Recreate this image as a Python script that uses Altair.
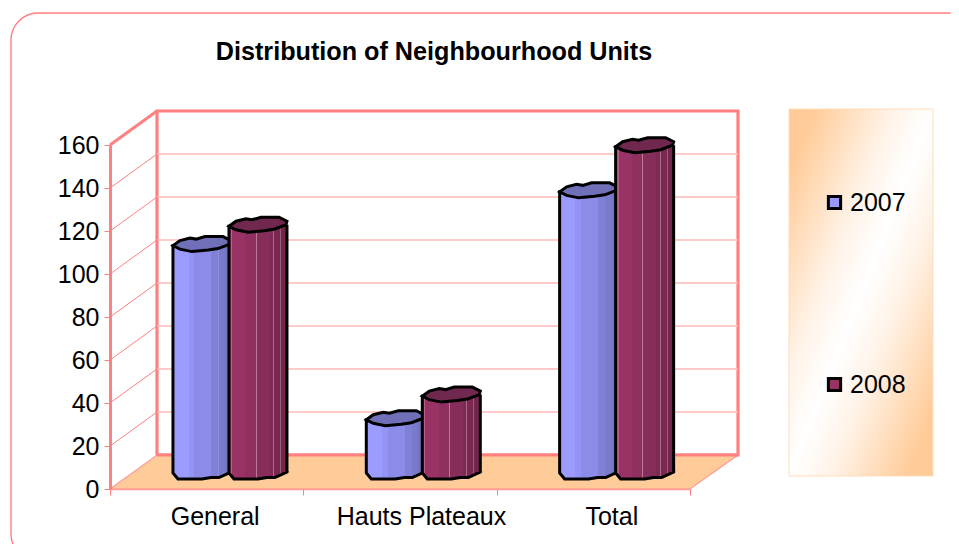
import altair as alt
import pandas as pd

categories = ["General", "Hauts Plateaux", "Total"]
series = ["2007", "2008"]
values_2007 = [106, 25, 131]
values_2008 = [115, 36, 152]
y_ticks = [0, 20, 40, 60, 80, 100, 120, 140, 160]

LINE = "#FF8080"
GRID = "#FFB8B8"
FLOOR = "#FFCC99"
FONT = "Liberation Sans"
DX, DY = 47, -34          # depth of the box
MX, MY = 24, -17          # bars stand half way in

rows = []
for s, vals in zip(series, [values_2007, values_2008]):
    for c, v in zip(categories, vals):
        rows.append({"category": c, "series": s, "value": v})
df = pd.DataFrame(rows)
ticks = pd.DataFrame({"v": y_ticks})
one = pd.DataFrame({"a": [0]})

def stepped(bands):
    stops = []
    for i, (start, colour) in enumerate(bands):
        end = bands[i + 1][0] if i + 1 < len(bands) else 1
        stops.append({"offset": start, "color": colour})
        stops.append({"offset": end, "color": colour})
    return {"gradient": "linear", "x1": 0, "x2": 1, "y1": 0, "y2": 0, "stops": stops}

body = {
    "2007": stepped([(0, "#9C9CFF"), (0.27, "#9494F4"), (0.37, "#8C8CE8"), (0.66, "#8080D6"),
                     (0.78, "#9090DC"), (0.79, "#7A7ACC"), (0.9, "#7474C0")]),
    "2008": stepped([(0, "#9B3366"), (0.03, "#B86088"), (0.05, "#993366"), (0.28, "#90305F"),
                     (0.46, "#B87A96"), (0.475, "#872D5A"), (0.7, "#7E2A54"),
                     (0.76, "#A66C88"), (0.775, "#7A2850"), (0.88, "#96607C"), (0.895, "#73264C")]),
}
cap = {"2007": "#7070B8", "2008": "#70284F"}
shift = {"2007": -28.7, "2008": 27.3}

TOP = "M-29,1.5 L-22,-3.5 L-12,-6 L-6,-5 L3,-7.5 L21,-7.5 L29,-3.5 L28,0 L16,4.5 L6,6 L-10,7.5 L-22,5 Z"
BOTTOM = "M-29,0 L-29,1 L-24,7 L0,7 L9,5.5 L17,5.5 L29,0 L29,-1"
FLOOR_PATH = f"M0,344 L{DX},{344+DY} L628,{344+DY} L580,344 Z"
WALL_TOP = f"M0,0 L{DX},{DY}"

xscale = alt.Scale(domain=categories, paddingInner=0, paddingOuter=0)
yscale = alt.Scale(domain=[0, 160], nice=False)
xaxis = alt.Axis(
    domainColor="#FF9999", domainWidth=1.5, tickColor=LINE, tickSize=6, tickWidth=1, tickBand="extent",
    labelAngle=0, labelFont=FONT, labelFontSize=25, labelColor="black", labelPadding=9,
    labelOffset={"condition": [{"test": "datum.label == 'General'", "value": 8},
                               {"test": "datum.label == 'Total'", "value": 18}], "value": 21},
    title=None, zindex=1)
yaxis = alt.Axis(
    values=y_ticks, domainColor=LINE, domainWidth=3, tickColor=LINE, tickSize=6, tickWidth=1,
    labelFont=FONT, labelFontSize=25, labelColor="black", labelPadding=5, grid=False, title=None, zindex=1)

frame = alt.Chart(one).mark_rect(fill="white", stroke=LINE, strokeWidth=1.4, cornerRadius=27).encode(
    x=alt.value(-99), x2=alt.value(865), y=alt.value(-132), y2=alt.value(416))

legend_box = alt.Chart(one).mark_rect(
    fill={"gradient": "linear", "x1": 0, "y1": 0, "x2": 1, "y2": 1,
          "stops": [{"offset": 0, "color": FLOOR}, {"offset": 0.09, "color": FLOOR},
                    {"offset": 0.36, "color": "#FFF3E8"}, {"offset": 0.5, "color": "#FFFFFF"},
                    {"offset": 0.64, "color": "#FFF3E8"}, {"offset": 0.91, "color": FLOOR},
                    {"offset": 1, "color": FLOOR}]},
    stroke="#FFDDBB", strokeWidth=1).encode(
    x=alt.value(679), x2=alt.value(823), y=alt.value(-36), y2=alt.value(331))

wall = alt.Chart(one).mark_rect(fill="white", stroke=LINE, strokeWidth=3.2).encode(
    x=alt.value(DX), x2=alt.value(628), y=alt.value(DY), y2=alt.value(344 + DY))

floor = alt.Chart(one).mark_point(shape=FLOOR_PATH, size=4, filled=True, fill=FLOOR, opacity=1,
                                  stroke="#FF9999", strokeWidth=1.2).encode(
    x=alt.value(0), y=alt.value(0))

wall_back_base = alt.Chart(one).mark_rule(stroke=LINE, strokeWidth=3.2).encode(
    x=alt.value(DX), x2=alt.value(628), y=alt.value(344 + DY))

wall_top = alt.Chart(one).mark_point(shape=WALL_TOP, size=4, filled=False, stroke=LINE, strokeWidth=3,
                                     opacity=1).encode(x=alt.value(0), y=alt.value(0))

inner = ticks[(ticks.v > 0) & (ticks.v < 160)]
grid_back = alt.Chart(inner).mark_rule(stroke=GRID, strokeWidth=1.5, yOffset=DY).encode(
    x=alt.value(DX), x2=alt.value(628), y=alt.Y("v:Q", scale=yscale, axis=yaxis))

grid_side = alt.Chart(inner).mark_rule(stroke=LINE, strokeWidth=1, y2Offset=DY).encode(
    x=alt.value(0), x2=alt.value(DX),
    y=alt.Y("v:Q", scale=yscale, axis=yaxis), y2="v:Q")

xn = alt.X("category:N", scale=xscale, axis=xaxis)
yn = alt.Y("value:Q", scale=yscale, axis=yaxis)

axes = alt.Chart(df).mark_square(size=0, opacity=1).encode(
    x=xn, y=yn,
    color=alt.Color("series:N", scale=alt.Scale(domain=series, range=["#9999FF", "#993366"]), legend=alt.Legend(
        orient="none", legendX=712, legendY=45, title=None, symbolType="square", symbolSize=150,
        symbolStrokeColor="black", symbolStrokeWidth=3, labelFont=FONT, labelFontSize=25,
        labelColor="black", rowPadding=156, labelOffset=3)),
)

layers = [frame, legend_box, wall, floor, wall_back_base, grid_back, grid_side, wall_top, axes]

for s in series:
    d = df[df.series == s]
    ox = MX + shift[s]
    layers.append(alt.Chart(d).transform_calculate(base="0").mark_point(
        shape=BOTTOM, size=4, filled=True, fill=body[s], stroke="black", strokeWidth=3, opacity=1,
        xOffset=ox, yOffset=MY).encode(x=xn, y=alt.Y("base:Q", scale=yscale, axis=yaxis)))
    layers.append(alt.Chart(d).mark_bar(width=58, fill=body[s], xOffset=ox, yOffset=MY, y2Offset=MY).encode(
        x=xn, y=yn, y2=alt.datum(0)))
    for side in (-29, 29):
        layers.append(alt.Chart(d).mark_bar(width=3, fill="black", xOffset=ox + side, yOffset=MY, y2Offset=MY).encode(
            x=xn, y=yn, y2=alt.datum(0)))
    layers.append(alt.Chart(d).mark_point(
        shape=TOP, size=4, filled=True, fill=cap[s], stroke="black", strokeWidth=3, opacity=1,
        xOffset=ox, yOffset=MY).encode(x=xn, y=yn))

chart = alt.layer(*layers).properties(
    width=580, height=344,
    padding={"left": 102, "top": 137, "right": 261, "bottom": 55},
    autosize=alt.AutoSizeParams(type="none"),
    title=alt.TitleParams("Distribution of Neighbourhood Units", font=FONT, fontSize=25.2, fontWeight="bold",
                          color="black", anchor="middle", frame="group", dx=34, dy=78, offset=0, baseline="bottom"),
).configure_view(stroke=None).configure(background="white")

chart.save("out.html", embed_options={"renderer": "svg", "actions": False})
